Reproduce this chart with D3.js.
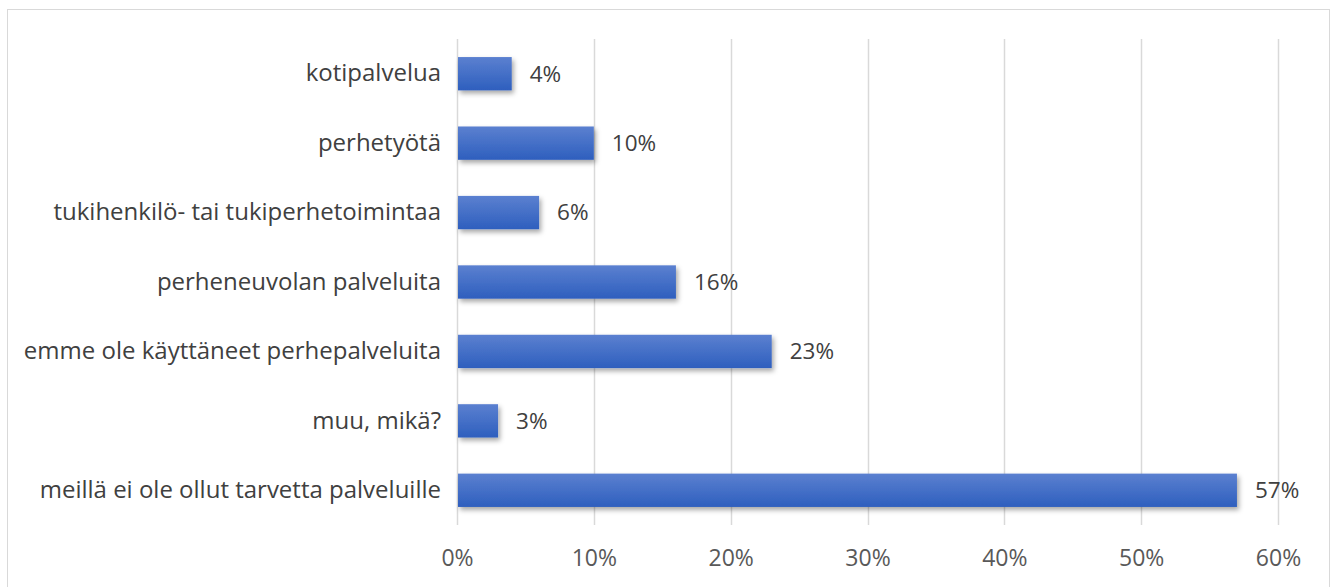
<!DOCTYPE html>
<html>
<head>
<meta charset="utf-8">
<script src="https://cdn.jsdelivr.net/npm/d3@7"></script>
<style>
  body { margin: 0; background: #fff; }
  text { font-family: "Open Sans", "Liberation Sans", sans-serif; }
</style>
</head>
<body>
<div id="chart"></div>
<script>
// data, top to bottom
var categories = [
  "kotipalvelua",
  "perhetyötä",
  "tukihenkilö- tai tukiperhetoimintaa",
  "perheneuvolan palveluita",
  "emme ole käyttäneet perhepalveluita",
  "muu, mikä?",
  "meillä ei ole ollut tarvetta palveluille"
];
var values = [4, 10, 6, 16, 23, 3, 57];
var tickValues = [0, 10, 20, 30, 40, 50, 60];

var width = 1336, height = 587;
var margin = { left: 457, right: 58, top: 39, bottom: 62 };

var svg = d3.select("#chart")
  .append("svg")
  .attr("width", width)
  .attr("height", height);

// gradient + shadow for bars
var defs = svg.append("defs");
var grad = defs.append("linearGradient")
  .attr("id", "barGrad")
  .attr("x1", 0).attr("y1", 0).attr("x2", 0).attr("y2", 1);
grad.append("stop").attr("offset", "0%").attr("stop-color", "#5b80d0");
grad.append("stop").attr("offset", "100%").attr("stop-color", "#2e5fbe");

var filt = defs.append("filter").attr("id", "shadow")
  .attr("x", "-10%").attr("y", "-30%").attr("width", "130%").attr("height", "180%");
filt.append("feDropShadow")
  .attr("dx", 2).attr("dy", 3).attr("stdDeviation", 2.5)
  .attr("flood-color", "#000").attr("flood-opacity", 0.35);

// chart border
svg.append("rect")
  .attr("x", 7.5).attr("y", 9.5)
  .attr("width", 1322).attr("height", 590)
  .attr("fill", "none")
  .attr("stroke", "#d9d9d9")
  .attr("stroke-width", 1);

var x = d3.scaleLinear()
  .domain([0, 60])
  .range([margin.left, width - margin.right]);

var y = d3.scaleBand()
  .domain(categories)
  .range([margin.top, height - margin.bottom])
  .paddingInner(0.52)
  .paddingOuter(0.26);

// gridlines
svg.append("g")
  .selectAll("line")
  .data(tickValues)
  .join("line")
  .attr("x1", function(d) { return Math.round(x(d)) + 0.5; })
  .attr("x2", function(d) { return Math.round(x(d)) + 0.5; })
  .attr("y1", margin.top)
  .attr("y2", height - margin.bottom)
  .attr("stroke", "#d9d9d9")
  .attr("stroke-width", 1.5);

// x axis labels
var xAxis = svg.append("g")
  .attr("transform", "translate(0," + (height - margin.bottom) + ")")
  .call(d3.axisBottom(x)
    .tickValues(tickValues)
    .tickSize(0)
    .tickPadding(25)
    .tickFormat(function(d) { return d + "%"; }));
xAxis.select(".domain").remove();
xAxis.selectAll("text")
  .attr("fill", "#595959")
  .style("font-size", "23px");

// category labels
var yAxis = svg.append("g")
  .attr("transform", "translate(" + (margin.left - 16) + ",0)")
  .call(d3.axisLeft(y).tickSize(0).tickPadding(0));
yAxis.select(".domain").remove();
yAxis.selectAll("text")
  .attr("fill", "#404040")
  .style("font-size", "24px");

// bars
svg.append("g")
  .selectAll("rect")
  .data(values)
  .join("rect")
  .attr("x", x(0) + 1)
  .attr("y", function(d, i) { return y(categories[i]); })
  .attr("width", function(d) { return x(d) - x(0) - 1; })
  .attr("height", y.bandwidth())
  .attr("fill", "url(#barGrad)")
  .attr("filter", "url(#shadow)");

// value labels
svg.append("g")
  .selectAll("text")
  .data(values)
  .join("text")
  .attr("x", function(d) { return x(d) + 18; })
  .attr("y", function(d, i) { return y(categories[i]) + y.bandwidth() / 2; })
  .attr("dy", "0.35em")
  .attr("fill", "#404040")
  .style("font-size", "22.5px")
  .text(function(d) { return d + "%"; });
</script>
</body>
</html>
